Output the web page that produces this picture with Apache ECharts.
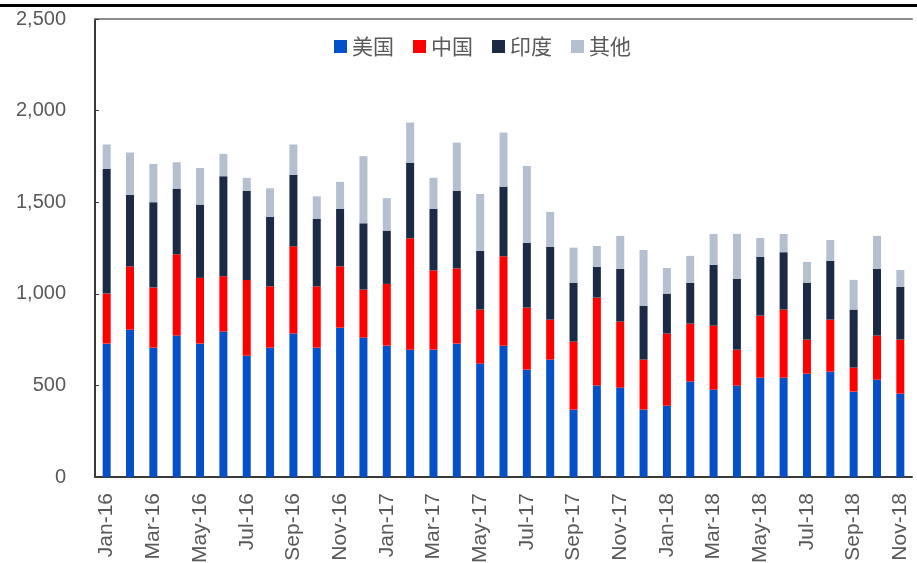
<!DOCTYPE html>
<html>
<head>
<meta charset="utf-8">
<script src="https://cdn.jsdelivr.net/npm/echarts@6/dist/echarts.min.js"></script>
<style>
	html,body{margin:0;padding:0;background:#fff;}
	#chart{width:917px;height:563px;}
</style>
</head>
<body>
<div id="chart"></div>
<script>
// 月份
var months = ['Jan-16','Feb-16','Mar-16','Apr-16','May-16','Jun-16','Jul-16','Aug-16','Sep-16','Oct-16','Nov-16','Dec-16',
	'Jan-17','Feb-17','Mar-17','Apr-17','May-17','Jun-17','Jul-17','Aug-17','Sep-17','Oct-17','Nov-17','Dec-17',
	'Jan-18','Feb-18','Mar-18','Apr-18','May-18','Jun-18','Jul-18','Aug-18','Sep-18','Oct-18','Nov-18'];
// 各来源数据
var usa = [728,804,706,772,728,794,662,706,783,706,815,761,717,695,695,728,619,717,586,641,368,499,488,368,389,521,477,499,542,542,564,575,466,531,455];
var china = [273,346,328,444,359,302,414,335,476,335,335,262,337,608,433,411,295,488,339,218,371,480,360,273,394,316,349,196,339,372,186,284,131,241,295];
var india = [682,390,466,358,400,546,487,379,390,369,313,362,291,413,335,423,320,380,353,397,320,168,288,294,218,222,332,386,320,313,309,320,317,364,287];
var other = [132,231,209,144,200,122,70,156,166,122,148,366,177,219,170,263,311,295,420,191,193,114,180,304,140,148,169,246,104,100,115,115,162,180,93];

var myChart = echarts.init(document.getElementById('chart'));

function bar(name, data, color){
	return {
		name: name,
		type: 'bar',
		stack: 'total',
		barWidth: 8,
		itemStyle: {color: color},
		data: data
	};
}

var option = {
	animation: false,
	textStyle: {fontFamily: 'Liberation Sans, Arial, sans-serif'},
	graphic: [{
		type: 'rect',
		shape: {x: 0, y: 4, width: 917, height: 3},
		style: {fill: '#000'}
	}],
	legend: {
		left: 329,
		top: 31,
		itemGap: 19,
		itemWidth: 13,
		itemHeight: 13,
		icon: 'rect',
		textStyle: {fontSize: 21, color: '#595959', fontFamily: 'Noto Sans CJK SC'},
		data: ['美国','中国','印度','其他']
	},
	grid: {left: 95, right: 5, top: 19, bottom: 86, outerBoundsMode: 'none'},
	xAxis: [{
		type: 'category',
		data: months,
		axisLine: {lineStyle: {color: '#3a3a3a', width: 2}},
		axisTick: {show: false},
		axisLabel: {
			interval: 1,
			rotate: 90,
			margin: 16,
			fontSize: 21,
			color: '#595959'
		}
	},{
		type: 'category',
		position: 'top',
		data: months,
		axisLine: {lineStyle: {color: '#8c8c8c', width: 2}},
		axisTick: {show: false},
		axisLabel: {show: false}
	}],
	yAxis: {
		type: 'value',
		min: 0,
		max: 2500,
		interval: 500,
		axisLine: {show: true, lineStyle: {color: '#3a3a3a', width: 2}},
		axisTick: {show: true, inside: true, length: 4, lineStyle: {color: '#3a3a3a'}},
		splitLine: {show: false},
		axisLabel: {
			margin: 29,
			fontSize: 20,
			color: '#595959',
			formatter: function(v){ return v.toLocaleString('en-US'); }
		}
	},
	series: [
		bar('美国', usa, '#0550c8'),
		bar('中国', china, '#ff0000'),
		bar('印度', india, '#1b2a45'),
		bar('其他', other, '#b4bfd0')
	]
};
myChart.setOption(option);
</script>
</body>
</html>
